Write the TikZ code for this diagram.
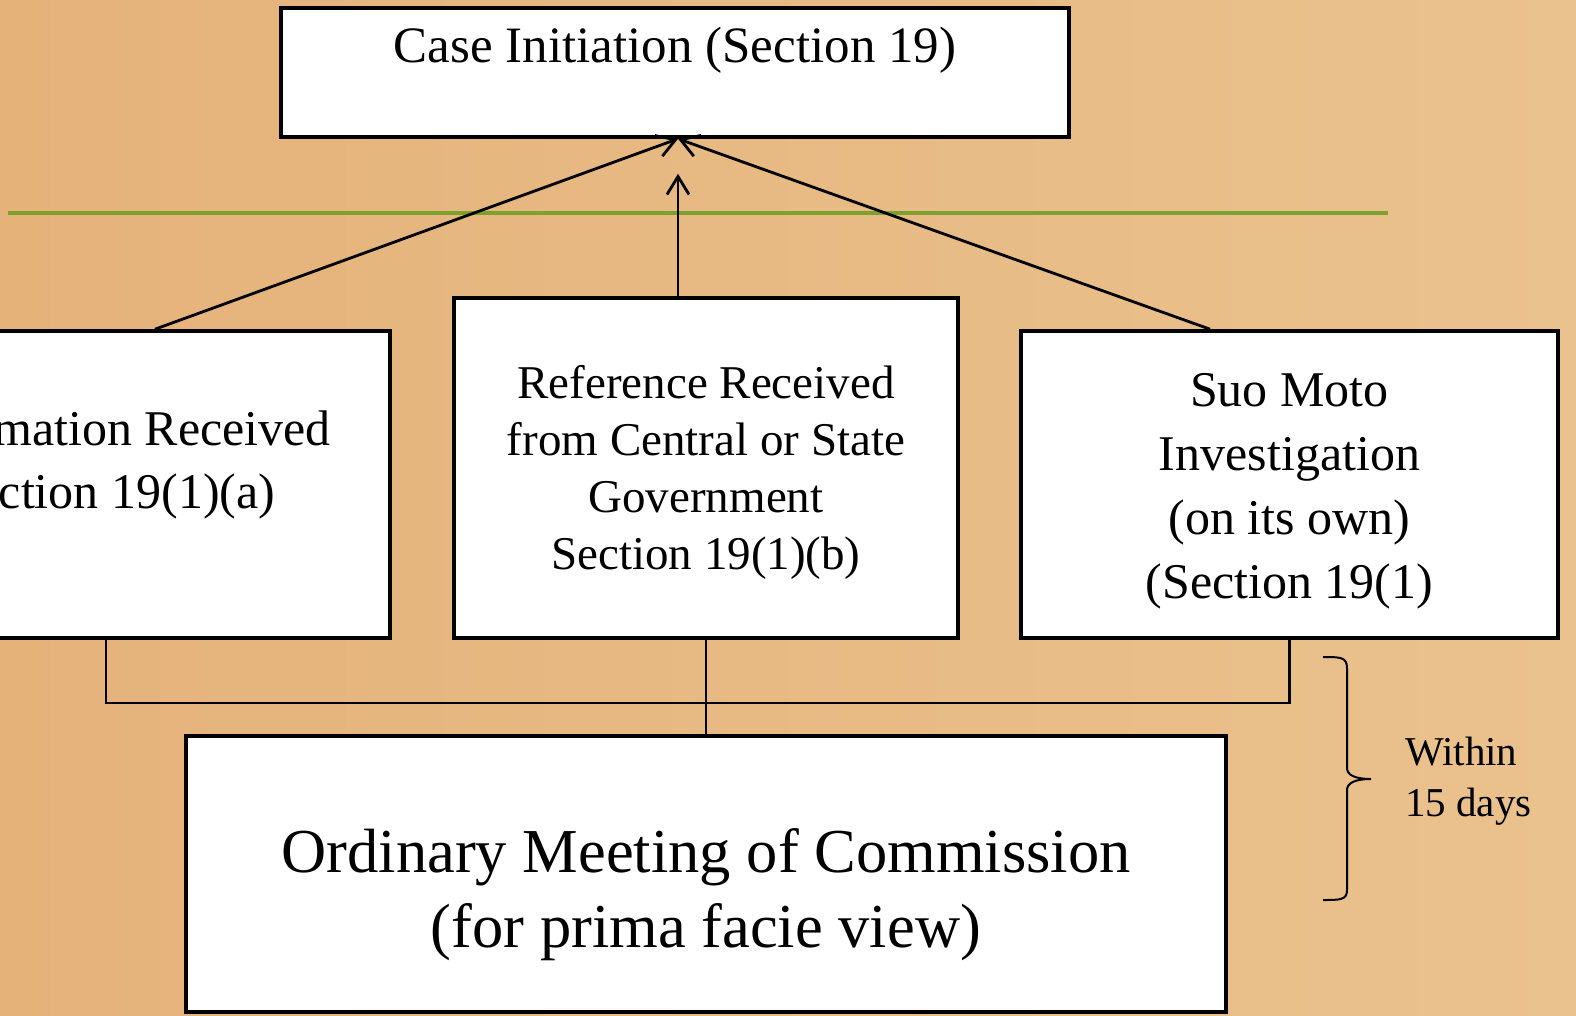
\documentclass[tikz,border=0pt]{standalone}
\usepackage{fontspec}
\setmainfont{Liberation Serif}
\usetikzlibrary{arrows.meta}
\definecolor{woodL}{RGB}{229,178,122}
\definecolor{woodM}{RGB}{237,205,168}
\definecolor{woodR}{RGB}{234,194,142}
\definecolor{ruleGreen}{RGB}{126,160,44}
\begin{document}
\begin{tikzpicture}[x=1pt,y=-1pt,
  stage/.style={draw,line width=3.6pt,fill=white,align=center,inner sep=0pt},
  link/.style={draw,line width=2.8pt},
  >={Straight Barb[length=18pt,width=22pt]}]
\useasboundingbox (0,0) rectangle (1576,1016);
\clip (0,0) rectangle (1576,1016);
\shade[left color=woodL,middle color=woodM,right color=woodR] (0,0) rectangle (1576,1016);
\draw[ruleGreen,line width=3.2pt] (8,213) -- (1388,213);

\node[stage,minimum width=788pt,minimum height=129pt,text height=36pt,text depth=55pt,font=\fontsize{51}{61}\selectfont] (init) at (675,72.5) {Case Initiation (Section 19)};
\node[stage,minimum width=556pt,minimum height=307pt,text height=107pt,text depth=60pt,font=\fontsize{50}{63}\selectfont] (info) at (112,484.5) {Information Received\\Section 19(1)(a)};
\node[stage,minimum width=504pt,minimum height=340pt,text height=214pt,text depth=12pt,font=\fontsize{47}{57}\selectfont] (ref) at (706,468) {Reference Received\\from Central or State\\Government\\Section 19(1)(b)};
\node[stage,minimum width=537pt,minimum height=307pt,text height=241pt,text depth=13pt,font=\fontsize{50}{64}\selectfont] (suo) at (1289.5,484.5) {Suo Moto\\Investigation\\(on its own)\\(Section 19(1)};
\node[stage,minimum width=1040pt,minimum height=276pt,text height=160pt,text depth=14pt,font=\fontsize{62.5}{75}\selectfont] (meet) at (706,874) {Ordinary Meeting of Commission\\(for prima facie view)};
\node[align=left,anchor=west,inner sep=0pt,font=\fontsize{41}{51}\selectfont] (days) at (1405,781) {Within\\15 days};
\coordinate (join) at (706,703);
\coordinate (tip) at ([xshift=3pt]init.south);

\path[link,->] ([xshift=43pt]info.north) -- (tip);
\path[link,->] ([xshift=-79.5pt]suo.north) -- (tip);
\path[link,->] (tip |- ref.north) -- ([yshift=-35pt]tip);
\path[link] ([xshift=-6pt]info.south) |- (join) -| (suo.south);
\path[link] (ref.south) -- (meet.north);
% brace for the time limit
\draw[line width=2pt] (1323,657) .. controls (1340,657) and (1347,657) .. (1347,668) -- (1347,768)
  .. controls (1347,775) and (1355,779) .. (1371,779) .. controls (1355,779) and (1347,783) .. (1347,790)
  -- (1347,890) .. controls (1347,900) and (1340,900) .. (1323,900);
\end{tikzpicture}
\end{document}
